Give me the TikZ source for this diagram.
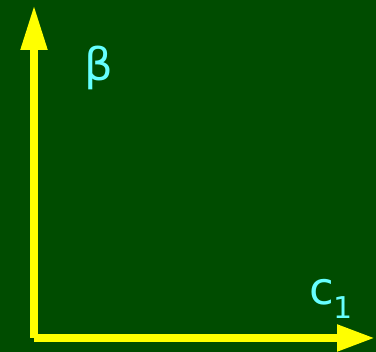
\documentclass[tikz,border=0pt]{standalone}
\usepackage{fontspec}
\setmainfont{DejaVu Sans}
\usetikzlibrary{positioning, arrows.meta}

\definecolor{boardgreen}{HTML}{004C00}
\definecolor{axisyellow}{HTML}{FFFF00}
\definecolor{labelcyan}{HTML}{66FFFF}

\begin{document}
\begin{tikzpicture}[x=1pt, y=1pt,
    axisline/.style={draw=axisyellow, line width=8pt},
    axislabel/.style={text=labelcyan, inner sep=0pt, font=\fontsize{45}{45}\selectfont}]
\fill[boardgreen] (0,0) rectangle (376,352);
\useasboundingbox (0,0) rectangle (376,352);
\coordinate (origin) at (34,14);
\coordinate (ytip) at (34,347);
\coordinate (xtip) at (375,14);
% axes
\draw[axisline, -{Triangle[length=45pt, width=25pt]}] (origin) -- (ytip);
\draw[axisline, -{Triangle[length=38pt, width=25pt]}] (origin) -- (xtip);
% labels
\node[axislabel, anchor=base] (beta) at (99,271) {β};
\node[axislabel, anchor=base west] (cone) at (309,47)
    {c\raisebox{-0.29em}{\fontsize{30}{30}\selectfont 1}};
\end{tikzpicture}
\end{document}
